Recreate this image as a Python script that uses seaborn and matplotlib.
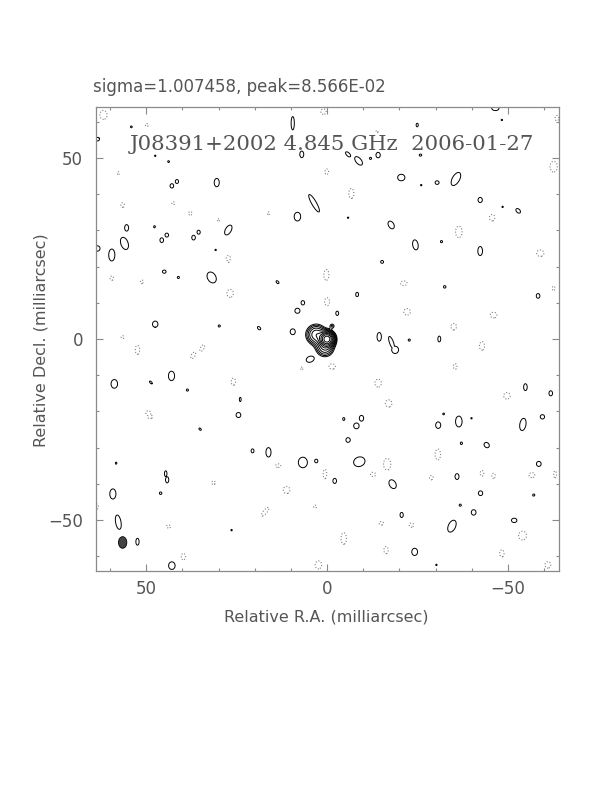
import numpy as np
import matplotlib
matplotlib.use("Agg")
import matplotlib.pyplot as plt
from matplotlib.patches import Ellipse
from matplotlib.ticker import MultipleLocator
import seaborn as sns

# map header values
sigma = 1.007458
peak = 8.566e-02
source = "J08391+2002"
freq = "4.845 GHz"
date = "2006-01-27"

# contour levels (mJy/beam): 3 sigma steps of sqrt(2), plus the negative one
pos_levels = [3.0 * np.sqrt(2) ** k for k in range(10)]
neg_levels = [-3.0]

# core components of the source: x, y (mas), peak (mJy/beam), width (mas)
src_x = [0.0, 3.0, 0.6, -1.4]
src_y = [0.0, 1.2, -2.4, 3.6]
src_amp = [84.0, 16.0, 12.0, 4.5]
src_sig = [1.05, 1.6, 1.5, 0.55]

# noise islands: x, y, width, height (mas), angle (deg)
pos_blobs = [
    (9.5, 59.6, 0.9, 3.7, 0), (7.0, 51.0, 1.1, 1.8, 0), (63.4, 55.2, 1.0, 1.0, 0),
    (54.1, 58.6, 0.5, 0.5, 0), (47.5, 50.6, 0.4, 0.4, 0), (43.8, 49.0, 0.5, 0.5, 0),
    (42.9, 42.3, 1.0, 1.2, 0), (41.5, 43.5, 0.9, 1.1, 0), (30.5, 43.2, 1.4, 2.3, 0),
    (3.6, 37.5, 5.5, 1.3, 60), (8.2, 33.8, 1.8, 2.4, 0), (55.4, 30.7, 1.1, 1.8, 0),
    (56.0, 26.4, 3.5, 2.0, 70), (63.5, 25.0, 1.5, 1.5, 0), (59.5, 23.2, 1.7, 3.3, 0),
    (47.7, 31.0, 0.5, 0.6, 0), (45.7, 27.3, 1.0, 1.3, 0), (44.3, 28.7, 1.0, 1.1, 0),
    (36.9, 28.0, 1.0, 1.3, 0), (35.5, 29.5, 0.9, 1.1, 0), (27.3, 30.1, 3.0, 1.6, 120),
    (30.8, 24.6, 0.4, 0.4, 0), (-46.5, 63.7, 2.0, 1.2, 0), (-24.9, 59.1, 0.6, 1.0, 0),
    (-25.8, 50.8, 0.7, 0.6, 0), (-5.8, 51.0, 1.8, 0.9, 45), (-8.7, 49.2, 2.8, 1.5, 50),
    (-12.0, 49.9, 0.6, 0.6, 0), (-14.1, 50.8, 1.2, 1.5, 0), (-20.5, 44.6, 2.0, 1.8, 0),
    (-30.4, 43.2, 1.1, 1.0, 0), (-35.6, 44.2, 4.0, 2.0, 120), (-42.3, 38.4, 1.2, 1.4, 0),
    (-52.8, 35.4, 1.5, 1.0, 45), (-17.7, 31.5, 2.3, 1.5, 60), (-24.4, 26.0, 2.8, 1.5, 80),
    (-31.6, 26.9, 0.6, 0.6, 0), (-42.3, 24.3, 1.3, 2.5, 0), (-15.2, 21.3, 0.8, 0.8, 0),
    (-26.0, 42.5, 0.4, 0.4, 0), (-5.8, 33.5, 0.4, 0.4, 0), (-48.5, 36.5, 0.4, 0.4, 0),
    (-48.3, 60.5, 0.4, 0.4, 0), (45.0, 18.6, 1.0, 0.9, 0), (41.1, 17.0, 0.6, 0.6, 0),
    (31.9, 17.0, 3.2, 2.3, 60), (13.7, 15.7, 1.0, 0.6, 45), (6.7, 10.0, 1.0, 1.2, 0),
    (8.2, 7.8, 1.4, 1.4, 0), (47.5, 4.1, 1.5, 1.7, 0), (29.8, 3.6, 0.6, 0.6, 0),
    (18.8, 3.0, 1.1, 0.7, 45), (9.5, 2.0, 1.4, 1.6, 0), (4.7, -5.6, 2.2, 1.6, 160),
    (58.8, -12.4, 1.8, 2.4, 0), (48.7, -12.0, 1.0, 0.5, 45), (43.0, -10.2, 1.7, 2.6, 0),
    (38.6, -14.1, 0.6, 0.6, 0), (24.0, -16.7, 0.5, 1.2, 0), (24.5, -21.0, 1.3, 1.4, 0),
    (-8.3, 12.3, 0.8, 1.2, 0), (-32.5, 14.4, 0.7, 0.7, 0), (-58.3, 11.9, 1.0, 1.3, 0),
    (-2.8, 7.1, 0.8, 1.2, 0), (-14.4, 0.6, 1.2, 2.4, 0), (-17.8, -1.0, 3.6, 1.1, 70),
    (-18.8, -3.0, 1.9, 2.0, 0), (-22.7, -0.3, 0.6, 0.6, 0), (-31.0, 0.0, 0.8, 1.6, 0),
    (-54.8, -13.3, 1.0, 1.9, 0), (-61.8, -15.0, 1.0, 1.4, 0), (-9.5, -21.9, 1.2, 1.6, 0),
    (-32.2, -20.7, 0.5, 0.5, 0), (-36.4, -22.8, 1.8, 3.0, 0), (-59.5, -21.5, 1.2, 1.2, 0),
    (35.1, -24.9, 0.8, 0.5, 45), (20.6, -30.9, 0.8, 1.1, 0), (16.2, -31.3, 1.4, 2.6, 0),
    (6.7, -34.1, 2.5, 2.9, 0), (3.0, -33.7, 0.9, 1.0, 0), (58.3, -34.3, 0.4, 0.6, 0),
    (44.6, -37.2, 0.7, 1.6, 0), (44.2, -38.9, 0.9, 1.7, 0), (46.0, -42.6, 0.7, 0.7, 0),
    (59.2, -42.8, 1.7, 2.8, 0), (57.7, -50.6, 4.0, 1.5, 80), (52.4, -56.0, 0.9, 1.9, 0),
    (26.4, -52.8, 0.4, 0.4, 0), (42.9, -62.6, 1.8, 2.1, 0), (-4.6, -22.1, 0.6, 0.8, 0),
    (-8.1, -24.0, 1.5, 1.6, 0), (-30.7, -23.8, 1.4, 1.8, 0), (-39.9, -21.9, 0.4, 0.4, 0),
    (-54.1, -23.6, 3.4, 1.7, 100), (-5.8, -27.9, 1.2, 1.3, 0), (-37.1, -28.8, 0.6, 0.7, 0),
    (-44.1, -29.3, 1.6, 1.3, 45), (-8.9, -33.9, 3.2, 2.6, 160), (-58.5, -34.5, 1.3, 1.4, 0),
    (-2.1, -39.2, 1.0, 1.4, 0), (-18.1, -40.1, 2.6, 1.8, 60), (-35.9, -38.0, 1.1, 1.6, 0),
    (-42.4, -42.6, 1.2, 1.3, 0), (-57.1, -43.1, 0.6, 0.6, 0), (-36.8, -45.9, 0.6, 0.6, 0),
    (-40.5, -47.9, 1.3, 1.5, 0), (-20.6, -48.6, 0.9, 1.4, 0), (-34.5, -51.7, 3.5, 2.0, 115),
    (-51.7, -50.1, 1.5, 1.2, 0), (-24.2, -58.8, 1.6, 2.0, 0), (-30.2, -62.4, 0.4, 0.4, 0),
]

neg_blobs = [
    (61.8, 61.9, 2.0, 2.5, 0), (49.8, 59.1, 0.8, 0.8, 0), (1.0, 62.8, 1.5, 1.5, 0),
    (0.1, 46.2, 1.0, 1.5, 0), (56.5, 37.0, 1.0, 1.3, 0), (42.5, 37.5, 0.8, 0.8, 0),
    (37.8, 34.7, 1.0, 1.0, 0), (30.0, 32.9, 0.8, 0.6, 0), (16.2, 34.7, 0.6, 0.8, 0),
    (27.3, 22.3, 1.2, 1.5, 0), (57.7, 45.8, 0.6, 0.8, 0), (-6.7, 40.2, 1.4, 2.8, 0),
    (-45.6, 33.5, 1.5, 1.8, 0), (-36.4, 29.6, 1.8, 3.2, 0), (-58.9, 23.7, 2.0, 1.8, 0),
    (-62.6, 47.6, 2.0, 3.0, 0), (-13.8, 57.3, 0.6, 0.6, 0), (-63.5, 61.0, 1.0, 1.5, 0),
    (59.5, 16.8, 1.0, 1.2, 0), (51.2, 15.8, 0.8, 1.0, 0), (26.8, 12.6, 1.8, 2.2, 0),
    (0.2, 17.7, 1.4, 3.0, 0), (0.0, 10.3, 1.4, 2.2, 0), (56.5, 0.5, 0.8, 0.8, 0),
    (52.4, -3.0, 1.2, 2.5, 0), (37.0, -4.5, 2.0, 1.0, 120), (34.5, -2.5, 2.0, 1.0, 120),
    (25.9, -11.8, 1.2, 2.0, 0), (49.4, -20.5, 1.4, 1.4, 0), (7.0, -8.1, 0.8, 0.6, 0),
    (27.3, 21.4, 0.5, 0.6, 0), (-21.2, 15.4, 1.8, 1.3, 0), (-22.1, 7.5, 1.8, 1.8, 0),
    (-46.0, 6.6, 1.8, 1.6, 0), (-35.0, 3.4, 1.5, 1.8, 0), (-42.8, -1.9, 1.4, 2.4, 0),
    (-1.4, -7.6, 1.8, 1.5, 0), (-35.4, -7.6, 1.0, 1.6, 0), (-14.1, -12.2, 1.8, 2.2, 0),
    (-17.0, -17.8, 1.8, 2.0, 0), (-49.7, -15.7, 1.8, 1.8, 0), (-62.6, 14.0, 0.8, 1.2, 0),
    (48.9, -21.5, 1.4, 1.0, 0), (13.5, -35.0, 1.4, 1.0, 0), (0.6, -37.3, 1.0, 2.6, 0),
    (31.4, -39.7, 1.0, 1.0, 0), (11.2, -41.7, 1.8, 2.0, 0), (17.1, -47.7, 3.0, 1.0, 130),
    (3.3, -46.3, 0.8, 0.8, 0), (43.8, -51.8, 1.2, 0.8, 0), (39.7, -60.1, 1.2, 1.8, 0),
    (2.4, -62.4, 1.8, 2.2, 0), (63.6, -46.3, 0.8, 1.5, 0), (-30.6, -31.9, 1.5, 3.0, 0),
    (-16.6, -34.6, 2.0, 3.2, 0), (-12.7, -37.4, 1.4, 1.2, 0), (-28.8, -38.3, 1.0, 1.2, 0),
    (-42.8, -37.1, 1.0, 1.6, 0), (-46.0, -37.8, 1.0, 1.4, 0), (-56.6, -37.6, 1.6, 1.4, 0),
    (-63.0, -37.4, 0.8, 2.0, 0), (-15.0, -50.9, 1.2, 1.0, 0), (-23.3, -51.4, 1.2, 1.2, 0),
    (-4.6, -55.1, 1.5, 3.2, 0), (-16.3, -58.3, 1.2, 2.0, 0), (-48.3, -59.2, 1.2, 2.0, 0),
    (-54.0, -54.3, 2.2, 2.4, 0), (-61.0, -62.4, 1.6, 1.8, 0),
]
blob_amp = 4.0

# restoring beam: centre x, y, width, height (mas)
beam = (56.5, -56.2, 2.3, 3.2)

# build the map on a grid
step = 0.125
grid = np.arange(-64.0, 64.0 + step / 2, step)
gx, gy = np.meshgrid(grid, grid)
field = np.zeros_like(gx)

for x0, y0, a, s in zip(src_x, src_y, src_amp, src_sig):
    field += a * np.exp(-0.5 * ((gx - x0) ** 2 + (gy - y0) ** 2) / s ** 2)

# compact island profile: equals the lowest level on the island's outline;
# overlapping islands merge as a union (max / min) rather than a sum
drop = np.log(blob_amp / pos_levels[0])
hi = np.zeros_like(gx)
lo = np.zeros_like(gx)
for sign, blobs in ((1, pos_blobs), (-1, neg_blobs)):
    for x0, y0, w, h, ang in blobs:
        r = 2.5 * max(w, h)
        ix = np.where(np.abs(grid - x0) < r)[0]
        iy = np.where(np.abs(grid - y0) < r)[0]
        if len(ix) == 0 or len(iy) == 0:
            continue
        sl = (slice(iy[0], iy[-1] + 1), slice(ix[0], ix[-1] + 1))
        t = np.radians(ang)
        dx, dy = gx[sl] - x0, gy[sl] - y0
        u = dx * np.cos(t) + dy * np.sin(t)
        v = -dx * np.sin(t) + dy * np.cos(t)
        rho2 = (u / (w / 2)) ** 2 + (v / (h / 2)) ** 2
        isl = blob_amp * np.exp(-drop * rho2 ** 2)
        if sign > 0:
            hi[sl] = np.maximum(hi[sl], isl)
        else:
            lo[sl] = np.minimum(lo[sl], -isl)
field += hi + lo

sns.set_theme(style="ticks")
plt.rcParams["font.family"] = ["DejaVu Sans"]
grey = "#555555"
frame = "#8a8a8a"

fig = plt.figure(figsize=(6.12, 7.92), dpi=100)
ax = fig.add_axes([95.5 / 612, 1 - 570.7 / 792, 463.2 / 612, 463.4 / 792])

ax.contour(gx, gy, field, levels=pos_levels, colors="black",
           linewidths=0.7, linestyles="solid")
ax.contour(gx, gy, field, levels=neg_levels, colors="#808080",
           linewidths=0.8, linestyles=":")

ax.add_patch(Ellipse(beam[:2], beam[2], beam[3], facecolor="#444444",
                     edgecolor="black", linewidth=0.6))

ax.set_xlim(64, -64)
ax.set_ylim(-64, 64)
ax.xaxis.set_major_locator(MultipleLocator(50))
ax.xaxis.set_minor_locator(MultipleLocator(10))
ax.yaxis.set_major_locator(MultipleLocator(50))
ax.yaxis.set_minor_locator(MultipleLocator(10))
ax.tick_params(which="both", direction="in", top=True, right=True,
               color=frame, width=0.8, labelcolor=grey, labelsize=12)
ax.tick_params(which="major", length=5)
ax.tick_params(which="minor", length=2.5)
ax.tick_params(axis="x", pad=7)
ax.tick_params(axis="y", pad=9)
for sp in ax.spines.values():
    sp.set_color(frame)
    sp.set_linewidth(0.9)

ax.text(0.51, 0.908, f"{source} {freq}  {date}", transform=ax.transAxes,
        ha="center", va="baseline", fontsize=15.3, color=grey,
        family="DejaVu Serif")

fig.text(93 / 612, 1 - 92 / 792, f"sigma={sigma:.6f}, peak={peak:.3E}",
         ha="left", va="baseline", fontsize=12, color=grey)
fig.text(326.5 / 612, 1 - 617 / 792, "Relative R.A. (milliarcsec)",
         ha="center", va="center", fontsize=11.5, color=grey)
fig.text(41 / 612, 1 - 340 / 792, "Relative Decl. (milliarcsec)",
         ha="center", va="center", rotation=90, fontsize=11.5, color=grey)

fig.savefig("out.png", dpi=100)
